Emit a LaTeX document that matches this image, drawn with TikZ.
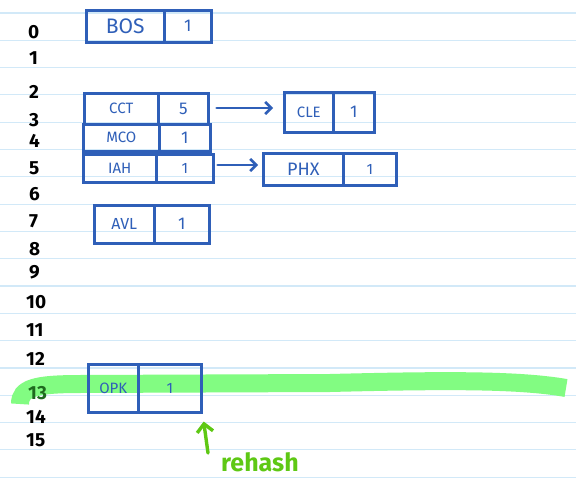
\documentclass[tikz,border=0pt]{standalone}
\usepackage{fontspec}
\setmainfont{Fira Sans}
\usetikzlibrary{arrows.meta}
\definecolor{ink}{HTML}{2F5FB8}
\definecolor{rulecol}{HTML}{D2E9F8}
\definecolor{hl}{HTML}{82FC82}
\definecolor{gink}{HTML}{5EC814}
\definecolor{dgreen}{HTML}{1F6A1F}
\begin{document}
\begin{tikzpicture}[x=1pt,y=-1pt,
  cell/.style={draw=ink, line width=2.6pt, text=ink, inner sep=0pt, anchor=north west, font=\fontsize{15}{15}\selectfont},
  idx/.style={font=\bfseries\fontsize{19}{19}\selectfont, anchor=west, inner sep=0pt, text=black},
  link/.style={draw=ink, line width=2.6pt, line cap=round, -{Straight Barb[length=6pt,width=12pt]}},
  garrow/.style={draw=gink, line width=3.4pt, line cap=round, -{Straight Barb[length=8pt,width=16pt]}}]
\useasboundingbox (0,0) rectangle (576,487);
\fill[white] (0,0) rectangle (576,487);
% ruled paper
\foreach \k in {0,...,17} \draw[rulecol, line width=1.2pt] (0,{13+27.3*\k}) -- (576,{13+27.3*\k});
% highlighter band
\draw[hl, line width=18pt] (20,404) .. controls (20,388) and (35,384) .. (80,384) -- (330,383) .. controls (450,380) and (520,380) .. (566,388);
% index numbers
\node[idx] (i0) at (28,32) {0};
\node[idx] (i1) at (29,58) {1};
\node[idx] (i2) at (29,92) {2};
\node[idx] (i3) at (29,120) {3};
\node[idx] (i4) at (29,141) {4};
\node[idx] (i5) at (29,168) {5};
\node[idx] (i6) at (29,194) {6};
\node[idx] (i7) at (29,221) {7};
\node[idx] (i8) at (29,249) {8};
\node[idx] (i9) at (29,272) {9};
\node[idx] (i10) at (26,302) {10};
\node[idx] (i11) at (26,330) {11};
\node[idx] (i12) at (26,359) {12};
\node[idx, text=dgreen] (i13) at (28,393) {13};
\node[idx] (i14) at (26,417) {14};
\node[idx] (i15) at (26,440) {15};
% buckets
\node[cell, minimum width=78pt, minimum height=32pt, font=\fontsize{21}{21}\selectfont] (bos) at (85,9) {BOS};
\node[cell, minimum width=47pt, minimum height=32pt, font=\fontsize{17}{17}\selectfont] (bos1) at (163,9) {1};
\node[cell, minimum width=74pt, minimum height=31pt] (cct) at (83,92) {CCT};
\node[cell, minimum width=50pt, minimum height=31pt, font=\fontsize{17}{17}\selectfont] (cct5) at (157,92) {5};
\node[cell, minimum width=76pt, minimum height=27pt] (mco) at (82,123) {MCO};
\node[cell, minimum width=51pt, minimum height=27pt, font=\fontsize{17}{17}\selectfont] (mco1) at (158,123) {1};
\node[cell, minimum width=73pt, minimum height=28pt] (iah) at (82,153) {IAH};
\node[cell, minimum width=57pt, minimum height=28pt] (iah1) at (155,153) {1};
\node[cell, minimum width=60pt, minimum height=38pt, font=\fontsize{16}{16}\selectfont] (avl) at (93,204) {AVL};
\node[cell, minimum width=55pt, minimum height=38pt, font=\fontsize{17}{17}\selectfont] (avl1) at (153,204) {1};
\node[cell, minimum width=49pt, minimum height=40pt] (cle) at (283,91) {CLE};
\node[cell, minimum width=41pt, minimum height=40pt, font=\fontsize{17}{17}\selectfont] (cle1) at (332,91) {1};
\node[cell, minimum width=80pt, minimum height=32pt, font=\fontsize{18}{18}\selectfont] (phx) at (262,152) {PHX};
\node[cell, minimum width=53pt, minimum height=32pt] (phx1) at (342,152) {1};
\node[cell, minimum width=50pt, minimum height=48pt] (opk) at (87,363) {OPK};
\node[cell, minimum width=63pt, minimum height=48pt] (opk1) at (137,363) {1};
% chains
\draw[link, shorten <=7pt, shorten >=10pt] (cct5.east |- 0,108) -- (cle.west |- 0,108);
\draw[link, shorten <=3pt, shorten >=4pt] (iah1.east |- 0,165) -- (phx.west |- 0,165);
% rehash
\node[text=gink, font=\bfseries\fontsize{25}{25}\selectfont, anchor=base west, inner sep=0pt] (rehash) at (221,471) {rehash};
\coordinate (tail) at (208,453);
\draw[garrow, shorten >=8pt] (tail) -- (opk1.south east);
\end{tikzpicture}
\end{document}
